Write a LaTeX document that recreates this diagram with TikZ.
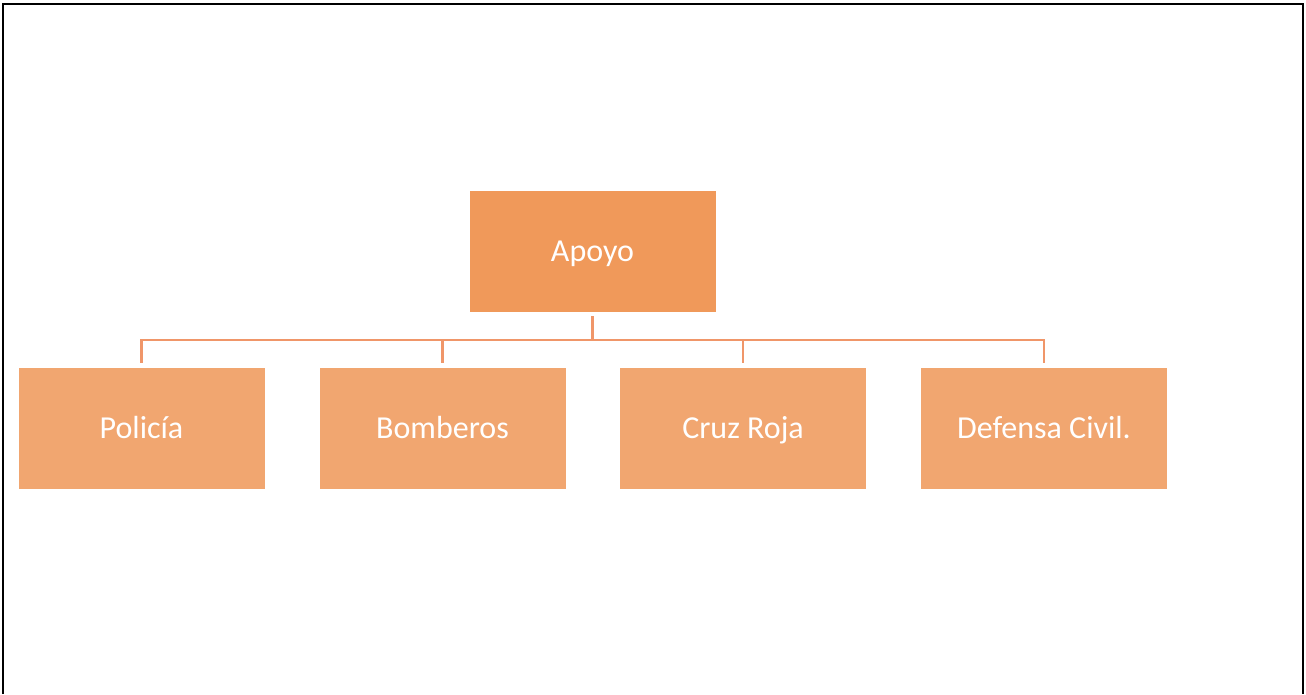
\documentclass[tikz,border=0pt]{standalone}
\usepackage{fontspec}
\setmainfont{Carlito}
\definecolor{topfill}{RGB}{240,153,90}
\definecolor{childfill}{RGB}{241,166,112}
\definecolor{linkcol}{RGB}{240,150,105}
\begin{document}
\begin{tikzpicture}[x=1pt,y=-1pt,
  boxstyle/.style={rectangle, inner sep=0pt, minimum width=246pt, minimum height=121pt, text=white, text height=24pt, text depth=4pt, font=\fontsize{32}{36}\selectfont},
  topbox/.style={boxstyle, fill=topfill},
  childbox/.style={boxstyle, fill=childfill},
  link/.style={draw=linkcol, line width=2.5pt},
  frame/.style={draw=black, line width=2.5pt}]
\useasboundingbox (0,0) rectangle (1306,694);
\draw[frame] (3,694) -- (3,4) -- (1303,4) -- (1303,694);
\node[topbox] (top) at (592.5,251.5) {Apoyo};
\node[childbox] (c1) at (141.5,428) {Policía};
\node[childbox] (c2) at (442.5,428) {Bomberos};
\node[childbox] (c3) at (743,428) {Cruz Roja};
\node[childbox] (c4) at (1044,428) {Defensa Civil.};
\coordinate (bus) at (592.5,340);
\draw[link] ([yshift=-4pt]top.south) -- (bus);
\draw[link] (bus) -| ([yshift=4pt]c1.north);
\draw[link] (bus) -| ([yshift=4pt]c2.north);
\draw[link] (bus) -| ([yshift=4pt]c3.north);
\draw[link] (bus) -| ([yshift=4pt]c4.north);
\end{tikzpicture}
\end{document}
